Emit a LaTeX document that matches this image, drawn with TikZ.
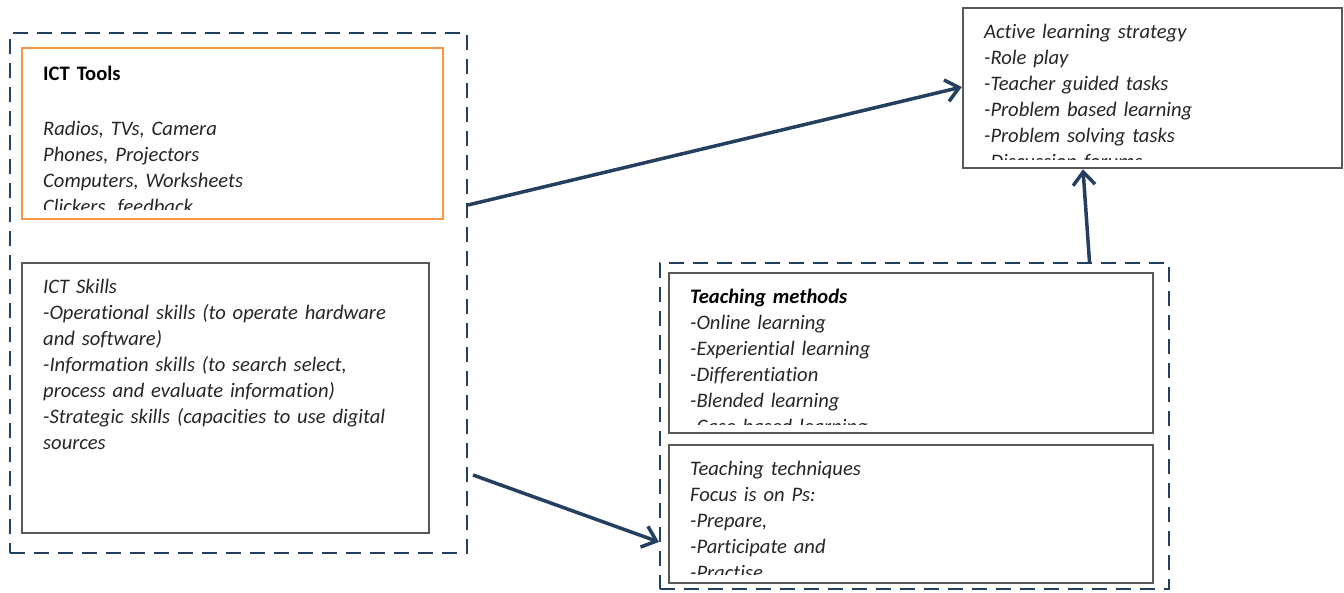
\documentclass[tikz,border=0pt]{standalone}
\usepackage{fontspec}
\setmainfont{Carlito}[Ligatures=NoCommon]
\usetikzlibrary{arrows.meta}
\definecolor{navy}{HTML}{243F60}
\definecolor{boxgray}{HTML}{595959}
\definecolor{orangeb}{HTML}{F79646}
\definecolor{txt}{HTML}{262626}
\tikzset{
  grp/.style={draw=navy, line width=2pt, dash pattern=on 15pt off 9pt, rectangle, inner sep=0pt},
  graybox/.style={draw=boxgray, line width=2.5pt, rectangle, inner sep=0pt, fill=white},
  orangebox/.style={draw=orangeb, line width=2pt, rectangle, inner sep=0pt, fill=white},
  boxtxt/.style={anchor=north west, inner sep=0pt, text width=440pt, align=left, text=txt,
     font=\fontsize{20.6}{26}\selectfont\itshape},
  arr/.style={draw=navy, line width=3.5pt, -{Straight Barb[length=13pt,width=22pt,line width=3.5pt]}},
}
\newcommand{\mybox}[4]{% node name, left x, first baseline y, content
  \begin{scope}
    \clip ([xshift=2pt,yshift=-2pt]#1.north west) rectangle ([xshift=-2pt,yshift=10pt]#1.south east);
    \node[boxtxt] at (#2,#3-18.2) {\strut #4};
  \end{scope}}
\begin{document}
\begin{tikzpicture}[x=1pt,y=-1pt]
\useasboundingbox (0,0) rectangle (1344,593);
% groups
\node[grp, minimum width=457pt, minimum height=520pt] (leftgroup) at (238.5,293) {};
\node[grp, minimum width=509pt, minimum height=326pt] (rightgroup) at (914.5,426) {};
% boxes
\node[orangebox, minimum width=421pt, minimum height=171pt] (tools) at (232.5,133.5) {};
\node[graybox, minimum width=407pt, minimum height=270pt] (skills) at (225.5,398) {};
\node[graybox, minimum width=379pt, minimum height=160pt] (active) at (1152.5,88) {};
\node[graybox, minimum width=484pt, minimum height=160pt] (methods) at (911,353) {};
\node[graybox, minimum width=484pt, minimum height=138pt] (techniques) at (911,514) {};
% texts
\mybox{tools}{43}{80}{{\upshape\bfseries\color{black}ICT Tools}\\[29pt]
Radios, TVs, Camera\\ Phones, Projectors\\ Computers, Worksheets\\ Clickers, feedback}
\mybox{skills}{43}{293}{ICT Skills\\ -Operational skills (to operate hardware\\ and software)\\
-Information skills (to search select,\\ process and evaluate information)\\
-Strategic skills (capacities to use digital\\ sources}
\mybox{active}{984}{38}{Active learning strategy\\ -Role play\\ -Teacher guided tasks\\
-Problem based learning\\ -Problem solving tasks\\ -Discussion forums}
\mybox{methods}{690}{303}{{\bfseries\color{black}Teaching methods}\\ -Online learning\\
-Experiential learning\\ -Differentiation\\ -Blended learning\\ -Case based learning}
\mybox{techniques}{690}{475}{Teaching techniques\\ Focus is on Ps:\\ -Prepare,\\
-Participate and\\ -Practise}
% connectors
\draw[arr] ([yshift=88pt]leftgroup.east) -- ([yshift=1pt]active.west);
\draw[arr] ([xshift=5pt,yshift=-182pt]leftgroup.east) -- ([yshift=-116pt]rightgroup.west);
\draw[arr] ([xshift=175pt]rightgroup.north) -- ([xshift=-69.5pt]active.south);
\end{tikzpicture}
\end{document}
